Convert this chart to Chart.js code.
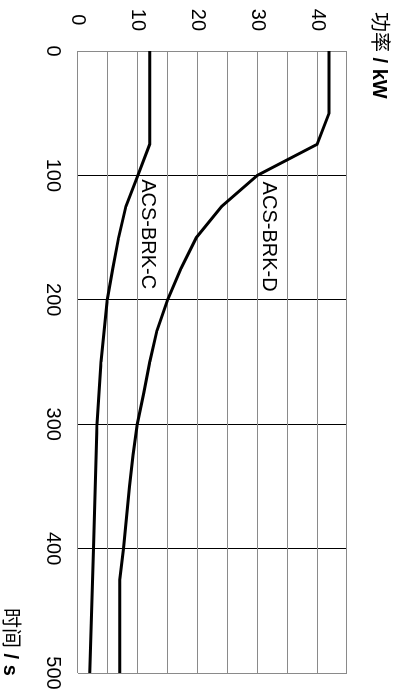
<!DOCTYPE html>
<html>
<head>
<meta charset="utf-8">
<script src="https://cdn.jsdelivr.net/npm/chart.js@4"></script>
<style>
  html, body { margin: 0; padding: 0; background: #fff; overflow: hidden; }
  #wrap {
    position: absolute; left: 0; top: 0; width: 692px; height: 401px;
    transform-origin: 0 0; transform: translate(401px, 0) rotate(90deg);
  }
</style>
</head>
<body>
<div id="wrap"><canvas id="c" width="692" height="401"></canvas></div>
<script>
// time in s, power in kW
const timeTicks = [0, 100, 200, 300, 400, 500];
const powerTicks = [0, 10, 20, 30, 40];

const brkDTime = [0, 50, 75, 100, 125, 150, 175, 200, 225, 250, 275, 300, 325, 350, 400, 425, 500];
const brkDPower = [42, 42, 40, 30, 24, 19.8, 17.2, 15, 13.2, 12, 11, 9.9, 9.2, 8.6, 7.6, 7, 7];

const brkCTime = [0, 75, 100, 125, 150, 175, 200, 250, 300, 400, 500];
const brkCPower = [12, 12, 10, 8, 6.8, 5.8, 4.9, 3.85, 3.17, 2.6, 1.95];

const seriesLabels = ["ACS-BRK-D", "ACS-BRK-C"];
const labelAt = [[105, 31], [103, 10.7]];

const xTitle = ["时间", " / s"];
const yTitle = ["功率", " / kW"];

const toPoints = (xs, ys) => xs.map((x, i) => ({ x, y: ys[i] }));

function drawTitle(ctx, parts, x, y) {
  ctx.font = "20px 'Noto Sans CJK SC', sans-serif";
  ctx.fillText(parts[0], x, y);
  const w = ctx.measureText(parts[0]).width;
  ctx.font = "bold 20px 'Liberation Sans', Arial, sans-serif";
  ctx.fillText(parts[1], x + w, y);
}

const textPlugin = {
  id: "brkText",
  afterDatasetsDraw(chart) {
    const ctx = chart.ctx;
    const xs = chart.scales.x, ys = chart.scales.y;
    ctx.save();
    ctx.fillStyle = "#000";
    ctx.textBaseline = "alphabetic";
    ctx.font = "20px 'Liberation Sans', Arial, sans-serif";
    seriesLabels.forEach((lab, i) => {
      ctx.fillText(lab, xs.getPixelForValue(labelAt[i][0]), ys.getPixelForValue(labelAt[i][1]));
    });
    drawTitle(ctx, yTitle, 12, 28);   // top left
    drawTitle(ctx, xTitle, 608, 397); // bottom right, runs off the edge
    ctx.restore();
  }
};

new Chart(document.getElementById("c").getContext("2d"), {
  type: "line",
  data: {
    datasets: [
      { data: toPoints(brkDTime, brkDPower), borderColor: "#000", borderWidth: 3, pointRadius: 0, tension: 0, fill: false },
      { data: toPoints(brkCTime, brkCPower), borderColor: "#000", borderWidth: 3, pointRadius: 0, tension: 0, fill: false }
    ]
  },
  options: {
    responsive: false,
    animation: false,
    devicePixelRatio: 1,
    layout: { padding: { top: 54, right: 19, left: 0, bottom: 0 } },
    plugins: { legend: { display: false }, tooltip: { enabled: false } },
    scales: {
      x: {
        type: "linear", min: 0, max: 500,
        afterBuildTicks(s) { s.ticks = timeTicks.map(v => ({ value: v })); },
        afterFit(s) { s.height = 78; s.paddingLeft = 0; s.paddingRight = 0; },
        border: { display: false },
        grid: {
          drawTicks: false, lineWidth: 1,
          color: c => (c.tick && (c.tick.value === 0 || c.tick.value === 500)) ? "#8a8a8a" : "#000"
        },
        ticks: { padding: 13, color: "#000", maxRotation: 0, font: { family: "'Liberation Sans', Arial, sans-serif", size: 20 } }
      },
      y: {
        type: "linear", min: 0, max: 45,
        ticks: {
          stepSize: 5, padding: 20, crossAlign: "center", color: "#000",
          callback: v => powerTicks.includes(v) ? String(v) : "",
          font: { family: "'Liberation Sans', Arial, sans-serif", size: 20 }
        },
        afterFit(s) { s.width = 51; s.paddingTop = 0; s.paddingBottom = 0; },
        border: { display: false },
        grid: { drawTicks: false, lineWidth: 1, color: "#8a8a8a" }
      }
    }
  },
  plugins: [textPlugin]
});
</script>
</body>
</html>
